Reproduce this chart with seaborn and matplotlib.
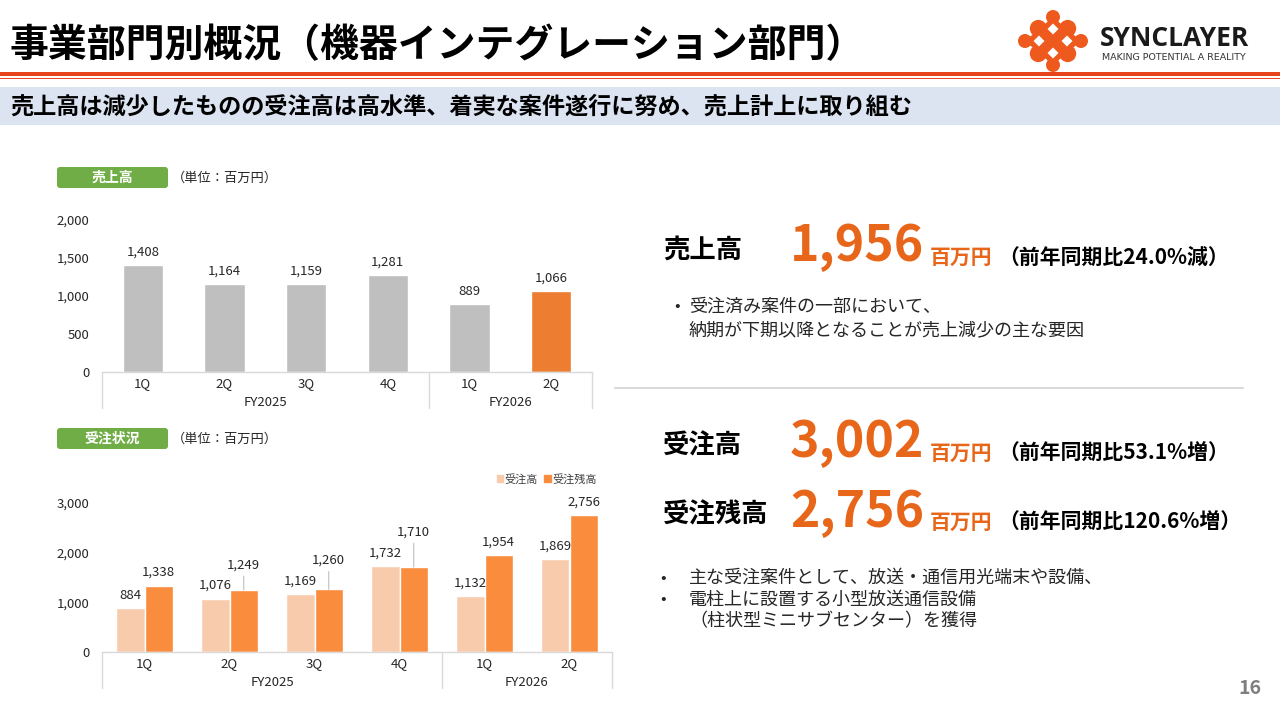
import numpy as np
import pandas as pd
import matplotlib
matplotlib.use("Agg")
import matplotlib.pyplot as plt
import matplotlib.transforms as mtransforms
from matplotlib.patches import Rectangle, FancyBboxPatch, Circle, Polygon
import seaborn as sns

# Data
periods = ["FY2025 1Q", "FY2025 2Q", "FY2025 3Q", "FY2025 4Q", "FY2026 1Q", "FY2026 2Q"]
quarters = ["1Q", "2Q", "3Q", "4Q", "1Q", "2Q"]
fiscal_years = ["FY2025", "FY2025", "FY2025", "FY2025", "FY2026", "FY2026"]
sales = [1408, 1164, 1159, 1281, 889, 1066]
orders = [884, 1076, 1169, 1732, 1132, 1869]
backlog = [1338, 1249, 1260, 1710, 1954, 2756]
series_names = ["受注高", "受注残高"]

kpi_labels = ["売上高", "受注高", "受注残高"]
kpi_values = [1956, 3002, 2756]
kpi_notes = ["（前年同期比24.0%減）", "（前年同期比53.1%増）", "（前年同期比120.6%増）"]

title = "事業部門別概況（機器インテグレーション部門）"
subtitle = "売上高は減少したものの受注高は高水準、着実な案件遂行に努め、売上計上に取り組む"
sales_notes = ["受注済み案件の一部において、", "納期が下期以降となることが売上減少の主な要因"]
order_notes = ["主な受注案件として、放送・通信用光端末や設備、", "電柱上に設置する小型放送通信設備",
               "（柱状型ミニサブセンター）を獲得"]

# colours
GRAY_BAR = "#BFBFBF"
ORANGE_BAR = "#ED7D31"
LIGHT_ORD = "#F8CBAD"
DARK_ORD = "#FA8C3E"
KPI_ORANGE = "#E8661A"
LOGO = "#EE5A1E"
GREEN = "#70AD47"
LINE_GRAY = "#D9D9D9"
TXT = "#262626"

sns.set_theme(style="white")
plt.rcParams["font.family"] = ["Noto Sans CJK JP", "DejaVu Sans"]

W, H = 1280, 720
fig = plt.figure(figsize=(12.8, 7.2), dpi=100)
bg = fig.add_axes([0, 0, 1, 1])
bg.set_xlim(0, W)
bg.set_ylim(H, 0)
bg.axis("off")


def ax_rect(l, t, r, b):
    return [l / W, 1 - b / H, (r - l) / W, (b - t) / H]


# ---- header ----
bg.text(10, 46, title, fontsize=28, fontweight="bold", va="center", ha="left", color="black")
bg.add_patch(Rectangle((0, 71.5), W, 4, color="#E8441C", lw=0))
bg.add_patch(Rectangle((0, 77.5), W, 1.5, color="#E8441C", lw=0))
bg.add_patch(Rectangle((0, 87), W, 38, color="#DCE4F2", lw=0))
bg.text(10, 107, subtitle, fontsize=16.7, fontweight="bold", va="center", ha="left", color="black")

# logo: orange diamond blob with four white holes
cx, cy, ux, uy = 1053, 41, 14, 12
bg.add_patch(Polygon([(cx, cy - 2 * uy), (cx + 2 * ux, cy), (cx, cy + 2 * uy), (cx - 2 * ux, cy)],
                     closed=True, color=LOGO, lw=0))
for a, b, r in [(0, -2, 7), (0, 2, 7), (-2, 0, 7), (2, 0, 7),
                (-1.05, -1.05, 8.5), (1.05, -1.05, 8.5), (-1.05, 1.05, 8.5), (1.05, 1.05, 8.5)]:
    bg.add_patch(Circle((cx + a * ux, cy + b * uy), r, color=LOGO, lw=0))
for a, b in [(0, -1), (0, 1), (-1, 0), (1, 0)]:
    hx, hy = cx + a * ux, cy + b * uy
    bg.add_patch(Polygon([(hx, hy - 5.5), (hx + 5.5, hy), (hx, hy + 5.5), (hx - 5.5, hy)],
                         closed=True, color="white", lw=0))
bg.text(1100, 38, "SYNCLAYER", fontsize=19, fontweight="bold", family="Open Sans",
        va="center", ha="left", color="#1A1A1A")
bg.text(1102, 57, "MAKING POTENTIAL A REALITY", fontsize=6.8, family="DejaVu Sans",
        va="center", ha="left", color="#333333")

# section tags
for top, tag in [(167, "売上高"), (428, "受注状況")]:
    bg.add_patch(FancyBboxPatch((57, top), 111, 21, boxstyle="round,pad=0,rounding_size=3",
                                color=GREEN, lw=0))
    bg.text(112, top + 10.5, tag, fontsize=10, fontweight="bold", color="white",
            ha="center", va="center")
    bg.text(172, top + 11, "（単位：百万円）", fontsize=9.5, color=TXT, ha="left", va="center")

# ---- top chart: sales ----
df_sales = pd.DataFrame({"period": periods, "sales": sales})
sales_colors = [GRAY_BAR] * (len(periods) - 1) + [ORANGE_BAR]
ax1 = fig.add_axes(ax_rect(102, 220, 592, 372))
sns.barplot(data=df_sales, x="period", y="sales", hue="period", palette=sales_colors,
            order=periods, width=0.49, saturation=1, legend=False, ax=ax1)
for bar in ax1.patches:
    h = bar.get_height()
    ax1.annotate(f"{h:,.0f}", (bar.get_x() + bar.get_width() / 2, h), xytext=(0, 9),
                 textcoords="offset points", ha="center", va="center", fontsize=9.5, color=TXT)
ax1.set_ylim(0, 2000)
ax1.set_yticks([0, 500, 1000, 1500, 2000])

# ---- bottom chart: orders ----
df_orders = pd.DataFrame({"period": periods * 2,
                          "series": [series_names[0]] * 6 + [series_names[1]] * 6,
                          "value": orders + backlog})
ax2 = fig.add_axes(ax_rect(102, 503, 612, 652))
sns.barplot(data=df_orders, x="period", y="value", hue="series", order=periods,
            hue_order=series_names, palette=[LIGHT_ORD, DARK_ORD], width=0.67,
            saturation=1, ax=ax2)
label_raise = {("受注残高", 1): 12, ("受注残高", 2): 16, ("受注残高", 3): 22}
for name, cont in zip(series_names, ax2.containers):
    for i, bar in enumerate(cont):
        h = bar.get_height()
        x = bar.get_x() + bar.get_width() / 2
        r = label_raise.get((name, i), 0)
        if r:
            ax2.annotate(f"{h:,.0f}", (x, h), xytext=(0, (13 + r) * 0.72),
                         textcoords="offset points", ha="center", va="center", fontsize=9.5,
                         color=TXT, arrowprops=dict(arrowstyle="-", color="#BFBFBF", lw=0.8,
                                                    shrinkA=1, shrinkB=0))
        else:
            ax2.annotate(f"{h:,.0f}", (x, h), xytext=(0, 9.4), textcoords="offset points",
                         ha="center", va="center", fontsize=9.5, color=TXT)
ax2.set_ylim(0, 3000)
ax2.set_yticks([0, 1000, 2000, 3000])
handles = [Rectangle((0, 0), 1, 1, color=c) for c in [LIGHT_ORD, DARK_ORD]]
ax2.legend(handles, series_names, ncol=2, frameon=False, loc="center right",
           bbox_to_anchor=(0.97, 1.16), fontsize=8, handlelength=0.55, handleheight=0.55,
           handletextpad=0.15, columnspacing=0.6, borderaxespad=0, borderpad=0,
           labelcolor="#404040")

# shared axis styling: quarter ticks, fiscal-year groups and separators
for ax, ax_h in [(ax1, 152), (ax2, 149)]:
    ax.set_xlim(-0.5, len(periods) - 0.5)
    ax.set_xlabel("")
    ax.set_ylabel("")
    ax.set_facecolor("none")
    ax.set_xticks(range(len(periods)))
    ax.set_xticklabels(quarters)
    ax.yaxis.set_major_formatter(matplotlib.ticker.FuncFormatter(lambda v, p: f"{v:,.0f}"))
    ax.tick_params(axis="x", length=0, pad=3.5, labelsize=9.5, labelcolor=TXT)
    ax.tick_params(axis="y", length=0, pad=9, labelsize=9.5, labelcolor=TXT)
    for s in ["left", "top", "right"]:
        ax.spines[s].set_visible(False)
    ax.spines["bottom"].set_color(LINE_GRAY)
    ax.spines["bottom"].set_linewidth(1)
    trans = mtransforms.blended_transform_factory(ax.transData, ax.transAxes)
    fy = pd.Series(fiscal_years)
    seps = [-0.5]
    for year in fy.unique():
        idx = fy[fy == year].index
        ax.annotate(year, xy=((idx.min() + idx.max()) / 2, 0),
                    xycoords=("data", "axes fraction"), xytext=(0, -21.6),
                    textcoords="offset points", ha="center", va="center", fontsize=9.5, color=TXT)
        seps.append(idx.max() + 0.5)
    for xs in seps:
        ax.plot([xs, xs], [0, -36 / ax_h], transform=trans, clip_on=False, color=LINE_GRAY, lw=1)

# ---- right side KPIs ----
kpi_y = [247, 443, 512]
for lab, val, note, y in zip(kpi_labels, kpi_values, kpi_notes, kpi_y):
    bg.text(663, y + 3, lab, fontsize=19, fontweight="bold", color="black", ha="left", va="center")
    bg.text(790, y, f"{val:,}", fontsize=36, fontweight="bold", color=KPI_ORANGE,
            ha="left", va="center")
    bg.text(930, y + 10, "百万円", fontsize=15, fontweight="bold", color=KPI_ORANGE,
            ha="left", va="center")
    bg.text(998, y + 10, note, fontsize=15, fontweight="bold", color="black",
            ha="left", va="center")

bg.text(677, 307, "•", fontsize=12, color=TXT, ha="center", va="center")
for k, line in enumerate(sales_notes):
    bg.text(689, 307 + 23 * k, line, fontsize=13, color=TXT, ha="left", va="center")
bg.plot([615, 1243], [388, 388], color=LINE_GRAY, lw=1.5)

for k, line in enumerate(order_notes):
    if k < 2:
        bg.text(663, 578 + 21.5 * k, "•", fontsize=12, color=TXT, ha="center", va="center")
    bg.text(689, 578 + 21.5 * k, line, fontsize=13, color=TXT, ha="left", va="center")

bg.text(1250, 688, "16", fontsize=14, fontweight="bold", color="#7F7F7F", ha="center", va="center")

fig.savefig("out.png", dpi=100)
